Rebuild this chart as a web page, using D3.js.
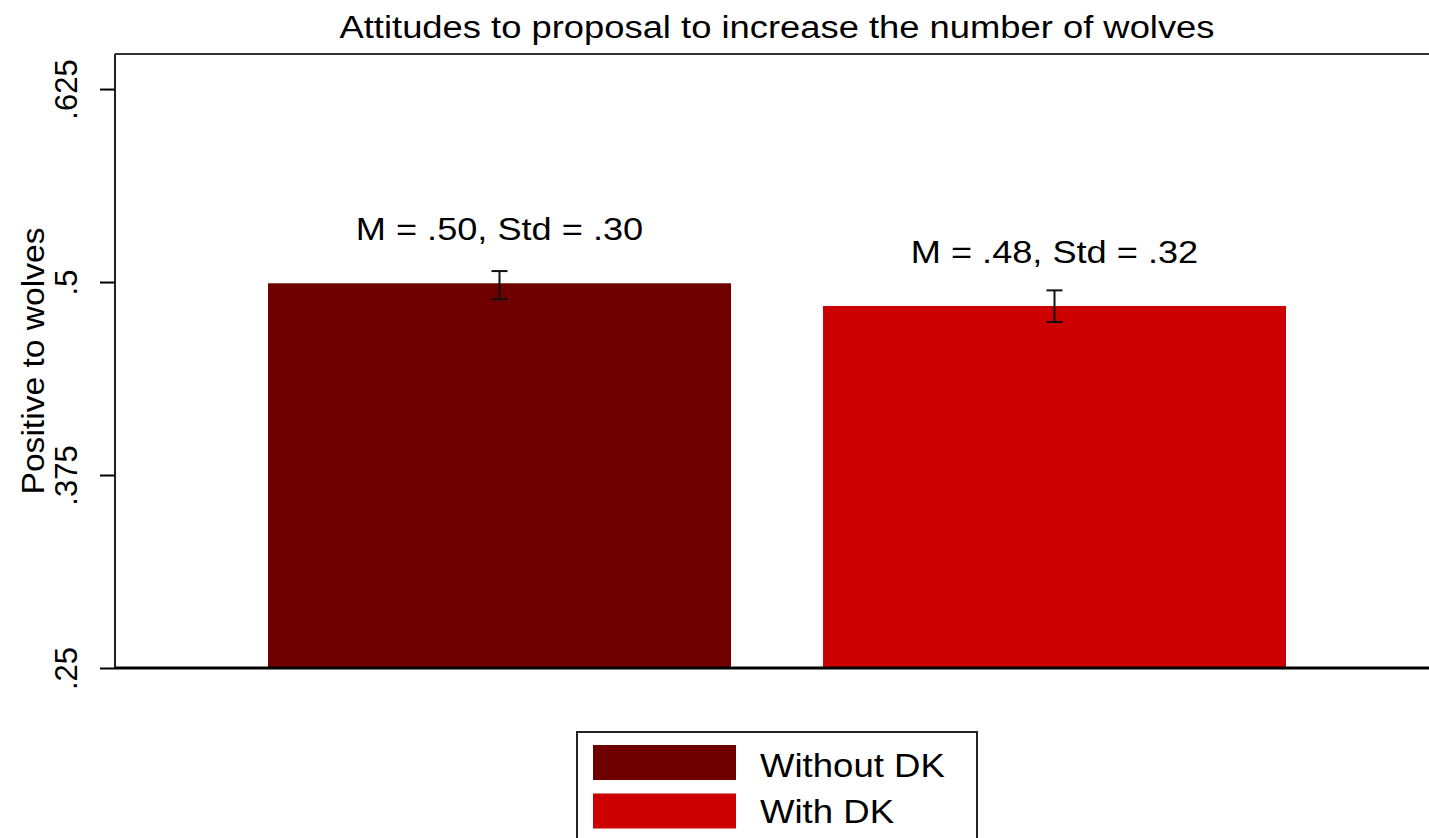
<!DOCTYPE html>
<html>
<head>
<meta charset="utf-8">
<script src="https://cdn.jsdelivr.net/npm/d3@7"></script>
<style>
html,body{margin:0;padding:0;background:#fff;overflow:hidden;}
text{font-family:"Liberation Sans",Arial,sans-serif;fill:#000;}
</style>
</head>
<body>
<svg id="chart" width="1429" height="838"></svg>
<script>
const categories = ["Without DK", "With DK"];
const means = [0.4992, 0.4845];
const ciLow = [0.4889, 0.4741];
const ciHigh = [0.5071, 0.4946];
const barLabels = ["M = .50, Std = .30", "M = .48, Std = .32"];
const colors = ["#700000", "#CC0000"];
const yTicks = [0.25, 0.375, 0.5, 0.625];
const yTickLabels = [".25", ".375", ".5", ".625"];
const title = "Attitudes to proposal to increase the number of wolves";
const yTitle = "Positive to wolves";

const svg = d3.select("#chart");
const L = 115, T = 54, R = 1439, B = 668;

function fit(stretch) {
  return sel => sel.each(function () {
    const w = this.getComputedTextLength();
    d3.select(this).attr("textLength", w * stretch).attr("lengthAdjust", "spacingAndGlyphs");
  });
}

const y = d3.scaleLinear().domain([0.25, 0.6477]).range([B, T]);
const x = d3.scaleBand().domain(categories).range([L, R])
  .paddingInner(0.1658).paddingOuter(0.2757);

// bars
svg.append("g").selectAll("rect").data(categories).join("rect")
  .attr("x", d => x(d))
  .attr("width", x.bandwidth())
  .attr("y", (d, i) => y(means[i]))
  .attr("height", (d, i) => B - y(means[i]))
  .attr("fill", (d, i) => colors[i]);

// error bars
const eb = svg.append("g").attr("stroke", "#111").attr("stroke-width", 2).attr("fill", "none");
categories.forEach((c, i) => {
  const cx = x(c) + x.bandwidth() / 2;
  eb.append("line").attr("x1", cx).attr("x2", cx).attr("y1", y(ciLow[i])).attr("y2", y(ciHigh[i]));
  eb.append("line").attr("x1", cx - 8).attr("x2", cx + 8).attr("y1", y(ciLow[i])).attr("y2", y(ciLow[i]));
  eb.append("line").attr("x1", cx - 8).attr("x2", cx + 8).attr("y1", y(ciHigh[i])).attr("y2", y(ciHigh[i]));
});

// bar labels
svg.append("g").selectAll("text").data(categories).join("text")
  .attr("x", d => x(d) + x.bandwidth() / 2)
  .attr("y", (d, i) => y(means[i]) - 43)
  .attr("text-anchor", "middle")
  .style("font-size", "32px")
  .text((d, i) => barLabels[i])
  .call(fit(1.13));

// frame
svg.append("line").attr("x1", L).attr("x2", R).attr("y1", T).attr("y2", T)
  .attr("stroke", "#333").attr("stroke-width", 2);
svg.append("line").attr("x1", L).attr("x2", L).attr("y1", T).attr("y2", B)
  .attr("stroke", "#222").attr("stroke-width", 2);
svg.append("line").attr("x1", L).attr("x2", R).attr("y1", B).attr("y2", B)
  .attr("stroke", "#000").attr("stroke-width", 3);

// y axis
const yAxis = d3.axisLeft(y).tickValues(yTicks).tickSize(15).tickPadding(18)
  .tickFormat((d, i) => yTickLabels[i]);
const ga = svg.append("g").attr("transform", `translate(${L},0)`).call(yAxis);
ga.select(".domain").remove();
ga.selectAll(".tick line").attr("stroke", "#000").attr("stroke-width", 2);
ga.selectAll(".tick text")
  .style("font-size", "31px")
  .style("font-family", '"Liberation Sans",Arial,sans-serif')
  .attr("fill", "#000")
  .attr("x", null).attr("dy", null)
  .attr("text-anchor", "middle")
  .attr("transform", "translate(-38,0) rotate(-90)");

// y title
svg.append("text")
  .attr("transform", `translate(44,${(T + B) / 2}) rotate(-90)`)
  .attr("text-anchor", "middle")
  .style("font-size", "31px")
  .text(yTitle)
  .call(sel => sel.attr("textLength", 267).attr("lengthAdjust", "spacingAndGlyphs"));

// title
svg.append("text")
  .attr("x", (L + R) / 2).attr("y", 38)
  .attr("text-anchor", "middle")
  .style("font-size", "31px")
  .text(title)
  .call(sel => sel.attr("textLength", 875).attr("lengthAdjust", "spacingAndGlyphs"));

// legend
const lg = svg.append("g");
lg.append("rect").attr("x", 577).attr("y", 732).attr("width", 400).attr("height", 130)
  .attr("fill", "#fff").attr("stroke", "#222").attr("stroke-width", 2);
categories.forEach((c, i) => {
  lg.append("rect").attr("x", 593).attr("y", 745 + i * 48.5).attr("width", 143).attr("height", 35)
    .attr("fill", colors[i]);
  lg.append("text").attr("x", 760).attr("y", 777 + i * 45.5)
    .style("font-size", "34px").text(c)
    .call(fit(1.075));
});
</script>
</body>
</html>
